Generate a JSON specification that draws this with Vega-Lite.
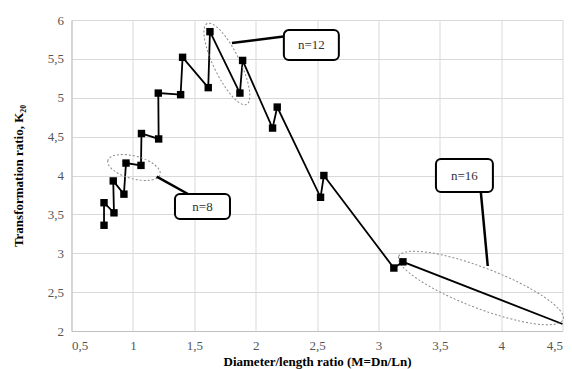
{
  "$schema": "https://vega.github.io/schema/vega-lite/v6.json",
  "width": 491,
  "height": 311,
  "autosize": {"type": "none"},
  "padding": {"left": 71.5, "top": 20, "right": 9.5, "bottom": 38},
  "background": "white",
  "config": {
    "view": {"stroke": null},
    "font": "Liberation Serif",
    "axis": {"labelFont": "Liberation Serif", "titleFont": "Liberation Serif"}
  },
  "datasets": {
    "series": [
      {"x": 0.765, "y": 3.36, "order": 1},
      {"x": 0.765, "y": 3.65, "order": 2},
      {"x": 0.846, "y": 3.52, "order": 3},
      {"x": 0.840, "y": 3.93, "order": 4},
      {"x": 0.927, "y": 3.76, "order": 5},
      {"x": 0.944, "y": 4.16, "order": 6},
      {"x": 1.066, "y": 4.13, "order": 7},
      {"x": 1.070, "y": 4.54, "order": 8},
      {"x": 1.210, "y": 4.47, "order": 9},
      {"x": 1.207, "y": 5.06, "order": 10},
      {"x": 1.389, "y": 5.04, "order": 11},
      {"x": 1.405, "y": 5.52, "order": 12},
      {"x": 1.614, "y": 5.13, "order": 13},
      {"x": 1.628, "y": 5.85, "order": 14},
      {"x": 1.872, "y": 5.06, "order": 15},
      {"x": 1.894, "y": 5.48, "order": 16},
      {"x": 2.138, "y": 4.61, "order": 17},
      {"x": 2.176, "y": 4.88, "order": 18},
      {"x": 2.529, "y": 3.72, "order": 19},
      {"x": 2.556, "y": 4.00, "order": 20},
      {"x": 3.126, "y": 2.81, "order": 21},
      {"x": 3.200, "y": 2.89, "order": 22},
      {"x": 4.500, "y": 2.09, "order": 23}
    ],
    "ellipses": [
      {"label": "n=8", "x": 1.009, "y": 4.103},
      {"label": "n=12", "x": 1.766, "y": 5.434},
      {"label": "n=16", "x": 3.835, "y": 2.553}
    ],
    "pointers": [
      {"label": "n=8", "x": 1.194, "y": 3.985, "x2": 1.449, "y2": 3.762},
      {"label": "n=12", "x": 1.807, "y": 5.704, "x2": 2.26, "y2": 5.794},
      {"label": "n=16", "x": 3.891, "y": 2.836, "x2": 3.834, "y2": 3.8}
    ],
    "boxes": [
      {"label": "n=8", "x": 1.343, "x2": 1.791, "y": 3.762, "y2": 3.44},
      {"label": "n=12", "x": 2.23, "x2": 2.678, "y": 5.871, "y2": 5.486},
      {"label": "n=16", "x": 3.469, "x2": 3.933, "y": 4.212, "y2": 3.788}
    ],
    "labels": [
      {"label": "n=8", "x": 1.567, "y": 3.601},
      {"label": "n=12", "x": 2.454, "y": 5.679},
      {"label": "n=16", "x": 3.701, "y": 4.0}
    ]
  },
  "encoding": {
    "x": {
      "field": "x", "type": "quantitative",
      "scale": {"domain": [0.5, 4.5], "nice": false, "zero": false},
      "axis": {
        "values": [0.5, 1, 1.5, 2, 2.5, 3, 3.5, 4, 4.5],
        "labelExpr": "replace(format(datum.value, '~g'), '.', ',')",
        "title": "Diameter/length ratio  (M=Dn/Ln)",
        "titleFontWeight": "bold", "titleFontSize": 13, "titleColor": "black", "titlePadding": 3,
        "labelFontSize": 13, "labelColor": "#555555", "labelPadding": 8, "labelOverlap": false,
        "ticks": false, "domainColor": "#bfbfbf", "gridColor": "#d9d9d9", "grid": true
      }
    },
    "y": {
      "field": "y", "type": "quantitative",
      "scale": {"domain": [2, 6], "nice": false, "zero": false},
      "axis": {
        "values": [2, 2.5, 3, 3.5, 4, 4.5, 5, 5.5, 6],
        "labelExpr": "replace(format(datum.value, '~g'), '.', ',')",
        "title": "Transformation ratio, K₂₀",
        "titleFontWeight": "bold", "titleFontSize": 13, "titleColor": "black", "titlePadding": 22,
        "labelFontSize": 13, "labelColor": "#555555", "labelPadding": 8, "labelOverlap": false,
        "ticks": false, "domainColor": "#bfbfbf", "gridColor": "#d9d9d9", "grid": true
      }
    }
  },
  "layer": [
    {
      "data": {"name": "series"},
      "mark": {"type": "line", "color": "black", "strokeWidth": 1.8},
      "encoding": {"order": {"field": "order", "type": "quantitative"}}
    },
    {
      "data": {"name": "ellipses"},
      "transform": [{"filter": "datum.label === 'n=8'"}],
      "mark": {"type": "point", "shape": "M -1 0 A 1 0.42 0 1 0 1 0 A 1 0.42 0 1 0 -1 0 Z", "size": 2916, "angle": 15, "filled": false, "stroke": "#888888", "strokeWidth": 1, "strokeDash": [2, 2], "opacity": 1}
    },
    {
      "data": {"name": "ellipses"},
      "transform": [{"filter": "datum.label === 'n=12'"}],
      "mark": {"type": "point", "shape": "M -1 0 A 1 0.29 0 1 0 1 0 A 1 0.29 0 1 0 -1 0 Z", "size": 8100, "angle": 64, "filled": false, "stroke": "#888888", "strokeWidth": 1, "strokeDash": [2, 2], "opacity": 1}
    },
    {
      "data": {"name": "ellipses"},
      "transform": [{"filter": "datum.label === 'n=16'"}],
      "mark": {"type": "point", "shape": "M -1 0 A 1 0.23 0 1 0 1 0 A 1 0.23 0 1 0 -1 0 Z", "size": 30976, "angle": 21, "filled": false, "stroke": "#888888", "strokeWidth": 1, "strokeDash": [2, 2], "opacity": 1}
    },
    {
      "data": {"name": "series"},
      "transform": [{"filter": "datum.x < 4.4"}],
      "mark": {"type": "square", "color": "black", "size": 55, "opacity": 1}
    },
    {
      "data": {"name": "pointers"},
      "mark": {"type": "rule", "color": "black", "strokeWidth": 2.5},
      "encoding": {"x2": {"field": "x2"}, "y2": {"field": "y2"}}
    },
    {
      "data": {"name": "boxes"},
      "mark": {"type": "rect", "fill": "white", "stroke": "black", "strokeWidth": 2, "cornerRadius": 5},
      "encoding": {"x2": {"field": "x2"}, "y2": {"field": "y2"}}
    },
    {
      "data": {"name": "labels"},
      "mark": {"type": "text", "font": "Liberation Serif", "fontSize": 13, "color": "#333333", "align": "center", "baseline": "middle"},
      "encoding": {"text": {"field": "label"}}
    }
  ]
}
